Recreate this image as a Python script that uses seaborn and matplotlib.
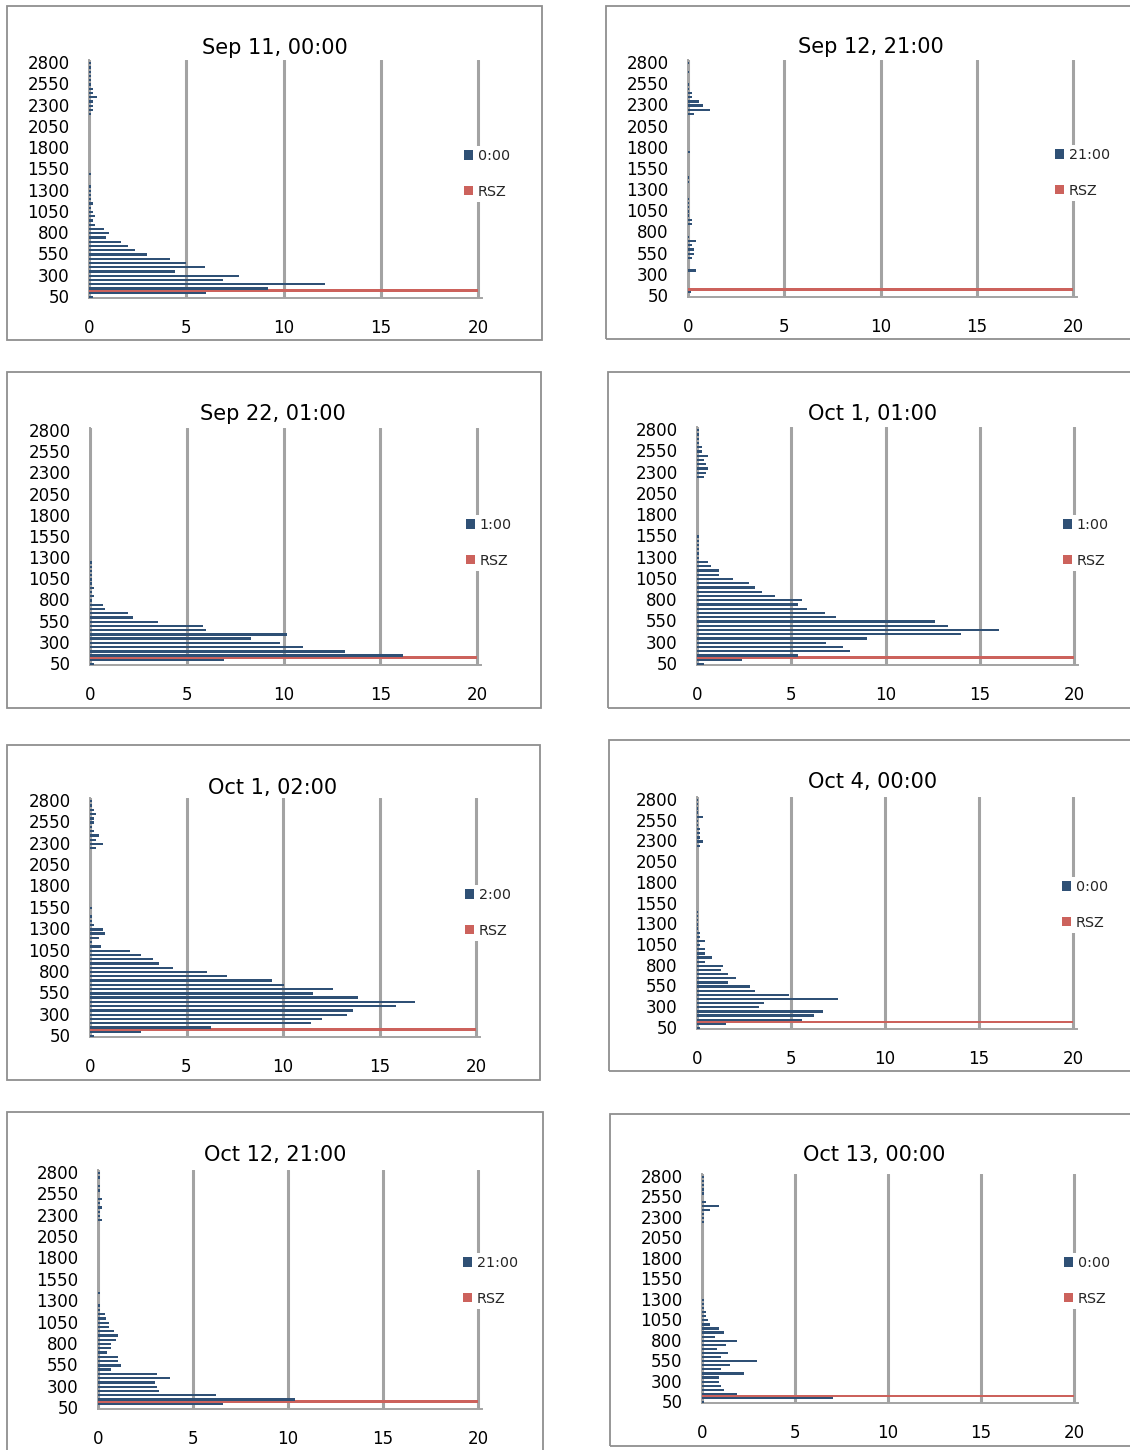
import matplotlib
matplotlib.use("Agg")
import matplotlib.pyplot as plt
from matplotlib.patches import Rectangle
import pandas as pd
import seaborn as sns

# ---------------- data ----------------
altitudes = list(range(50, 2801, 50))   # 56 altitude bins (bottom -> top)

titles = ["Sep 11, 00:00", "Sep 12, 21:00", "Sep 22, 01:00", "Oct 1, 01:00",
          "Oct 1, 02:00", "Oct 4, 00:00", "Oct 12, 21:00", "Oct 13, 00:00"]
series_labels = ["0:00", "21:00", "1:00", "1:00", "2:00", "0:00", "21:00", "0:00"]

sep11_0000 = [0.22, 6.0, 9.2, 12.15, 6.87, 7.7, 4.4, 5.95, 5.0, 4.18,
              3.0, 2.34, 1.98, 1.62, 0.88, 1.05, 0.77, 0.33, 0.22, 0.33,
              0.22, 0.12, 0.22, 0.12, 0.12, 0.12, 0.12, 0, 0, 0.12,
              0, 0, 0, 0, 0, 0, 0, 0, 0, 0,
              0, 0, 0, 0.12, 0.22, 0.22, 0.22, 0.43, 0.22, 0.22,
              0.09, 0.12, 0.12, 0.12, 0.12, 0.12]
sep12_2100 = [0, 0.17, 0, 0, 0, 0, 0.42, 0, 0, 0.2,
              0.31, 0.31, 0.2, 0.42, 0.05, 0, 0, 0.2, 0.2, 0.05,
              0.05, 0.05, 0.05, 0.05, 0, 0, 0, 0.05, 0.05, 0,
              0, 0, 0, 0, 0.1, 0, 0, 0, 0, 0,
              0, 0, 0, 0.31, 1.14, 0.79, 0.56, 0.2, 0.2, 0.05,
              0.05, 0, 0, 0.05, 0, 0.05]
sep22_0100 = [0.19, 6.9, 16.2, 13.2, 11.0, 9.84, 8.3, 10.2, 5.97, 5.85,
              3.51, 2.2, 1.97, 0.8, 0.67, 0.09, 0.2, 0.09, 0.2, 0.09,
              0.09, 0.09, 0.09, 0.09, 0.09, 0, 0, 0, 0, 0,
              0, 0, 0, 0, 0, 0, 0, 0, 0, 0,
              0, 0, 0, 0, 0, 0, 0, 0, 0, 0,
              0, 0, 0, 0, 0, 0]
oct01_0100 = [0.39, 2.4, 5.37, 8.1, 7.76, 6.82, 9.03, 14.0, 16.0, 13.3,
              12.6, 7.39, 6.8, 5.85, 5.37, 5.58, 4.15, 3.46, 3.09, 2.77,
              1.93, 1.18, 1.18, 0.76, 0.6, 0.12, 0.1, 0.1, 0.1, 0.1,
              0.1, 0, 0, 0, 0, 0, 0, 0, 0, 0,
              0, 0, 0, 0, 0.39, 0.49, 0.6, 0.49, 0.39, 0.6,
              0.28, 0.28, 0.1, 0.1, 0.1, 0.1]
oct01_0200 = [0.19, 2.65, 6.28, 11.47, 12.04, 13.34, 13.65, 15.88, 16.82, 13.91,
              11.57, 12.61, 10.07, 9.45, 7.11, 6.07, 4.31, 3.58, 3.27, 2.65,
              2.08, 0.57, 0.09, 0.47, 0.78, 0.67, 0.19, 0.09, 0.09, 0,
              0.09, 0, 0, 0, 0, 0, 0, 0, 0, 0,
              0, 0, 0, 0, 0.29, 0.67, 0.29, 0.47, 0.19, 0.09,
              0.19, 0.19, 0.29, 0.19, 0.09, 0.09]
oct04_0000 = [0.18, 1.53, 5.6, 6.2, 6.69, 3.31, 3.56, 7.52, 4.89, 3.08,
              2.84, 1.64, 2.1, 1.64, 1.26, 1.4, 0.43, 0.79, 0.43, 0.43,
              0.18, 0.43, 0.18, 0.18, 0.07, 0.07, 0.07, 0.07, 0.07, 0,
              0, 0, 0, 0, 0, 0, 0, 0, 0, 0,
              0, 0, 0, 0, 0.18, 0.32, 0.18, 0.18, 0.18, 0.07,
              0.07, 0.32, 0.07, 0.07, 0.07, 0.07]
oct12_2100 = [0, 6.56, 10.35, 6.19, 3.19, 3.09, 2.98, 3.77, 3.09, 0.67,
              1.19, 1.04, 1.04, 0.46, 0.67, 0.67, 0.93, 1.04, 0.82, 0.56,
              0.56, 0.4, 0.35, 0.09, 0.09, 0, 0, 0.09, 0, 0,
              0, 0, 0, 0, 0, 0, 0, 0, 0, 0,
              0, 0, 0, 0, 0.19, 0.09, 0.09, 0.19, 0.09, 0.19,
              0, 0.09, 0.09, 0, 0.09, 0.09]
oct13_0000 = [0.1, 7.06, 1.9, 1.2, 1.04, 0.93, 0.93, 2.28, 1.04, 1.52,
              2.97, 1.04, 1.42, 0.82, 1.31, 1.9, 0.72, 1.2, 0.93, 0.45,
              0.34, 0.23, 0.23, 0.1, 0.1, 0.1, 0, 0, 0, 0,
              0, 0, 0, 0, 0, 0, 0, 0, 0, 0,
              0, 0, 0, 0, 0.1, 0.1, 0.1, 0.45, 0.93, 0.23,
              0, 0.1, 0.1, 0.1, 0.1, 0.1]
profiles = [sep11_0000, sep12_2100, sep22_0100, oct01_0100,
            oct01_0200, oct04_0000, oct12_2100, oct13_0000]

rsz_altitude = [100, 100, 100, 100, 100, 100, 100, 100]
rsz_value = [20, 20, 20, 20, 20, 20, 20, 20]

x_ticks = [0, 5, 10, 15, 20]

# ---------------- layout (pixels) ----------------
W, H = 1130, 1450
# (x of 0, x of 20, top, bottom)
axes_px = [(89, 478, 60, 298), (688, 1073, 60, 297),
           (90, 477, 428, 665), (697, 1074, 427, 665),
           (90, 476, 798, 1037), (697, 1073, 797, 1029),
           (98, 478, 1170, 1409), (702, 1074, 1174, 1403)]
title_px = [(275, 48), (871, 47), (273, 414), (873, 414),
            (273, 788), (873, 782), (275, 1155), (874, 1155)]
legend_px = [(464, 174), (1055, 173), (466, 543), (1063, 543),
             (465, 913), (1062, 905), (463, 1281), (1064, 1281)]
frame_px = [(7, 6, 542, 340), (606, 6, 1140, 339),
            (7, 372, 541, 708), (608, 372, 1140, 708),
            (7, 745, 540, 1080), (609, 740, 1140, 1071),
            (7, 1112, 543, 1460), (610, 1114, 1140, 1446)]

BLUE = "#2F5075"
RED = "#CC625C"
GRID = "#A3A3A3"
XMAX = 20.2

sns.set_theme(style="white")
plt.rcParams["font.family"] = ["DejaVu Sans"]

fig = plt.figure(figsize=(W / 100, H / 100), dpi=100)
fig.patch.set_facecolor("white")

order = [str(a) for a in altitudes[::-1]]

for k in range(8):
    x0, x20, top, bot = axes_px[k]
    x1 = x0 + (x20 - x0) * XMAX / 20
    ax = fig.add_axes([x0 / W, 1 - bot / H, (x1 - x0) / W, (bot - top) / H])

    lab = series_labels[k]
    rsz_col = [rsz_value[k] if a == rsz_altitude[k] else 0 for a in altitudes]
    df = pd.DataFrame({
        "alt": [str(a) for a in altitudes] * 2,
        "value": list(profiles[k]) + rsz_col,
        "series": [lab] * len(altitudes) + ["RSZ"] * len(altitudes),
    })
    sns.barplot(data=df, y="alt", x="value", hue="series", order=order,
                hue_order=["RSZ", lab], palette={lab: BLUE, "RSZ": RED},
                saturation=1, dodge=True, width=1.1, orient="h",
                errorbar=None, linewidth=0, zorder=3, ax=ax)

    ax.set_xlim(0, XMAX)
    ax.set_ylim(len(order) - 0.5, -0.5)
    ax.set_xticks(x_ticks)
    ax.set_xticklabels([str(t) for t in x_ticks])
    ax.set_yticks(range(0, len(order), 5))
    ax.set_yticklabels(order[::5])
    ax.set_xlabel("")
    ax.set_ylabel("")
    ax.tick_params(axis="both", length=0, labelsize=12, colors="black")
    ax.tick_params(axis="y", pad=14)
    ax.tick_params(axis="x", pad=15)
    ax.xaxis.grid(True, color=GRID, linewidth=2.2, zorder=0)
    ax.yaxis.grid(False)
    ax.set_axisbelow(True)
    for s in ["top", "right"]:
        ax.spines[s].set_visible(False)
    for s in ["left", "bottom"]:
        ax.spines[s].set_color(GRID)
        ax.spines[s].set_linewidth(1.4)
        ax.spines[s].set_zorder(2)

    handles, labels = ax.get_legend_handles_labels()
    hmap = dict(zip(labels, handles))
    if ax.get_legend() is not None:
        ax.get_legend().remove()
    lx, ly = legend_px[k]
    fs = 10.3
    leg = ax.legend([hmap[lab], hmap["RSZ"]], [lab, "RSZ"],
                    loc="center left",
                    bbox_to_anchor=((lx - 0.2 * fs * 100 / 72) / W, 1 - ly / H),
                    bbox_transform=fig.transFigure,
                    frameon=True, facecolor="white", edgecolor="none",
                    fancybox=False, framealpha=1, fontsize=fs,
                    handlelength=0.65, handleheight=0.65,
                    handletextpad=0.3, labelspacing=1.5, borderpad=0.2,
                    borderaxespad=0)
    leg.set_zorder(10)

    tx, ty = title_px[k]
    fig.text(tx / W, 1 - ty / H, titles[k], ha="center", va="center",
             fontsize=15, color="black")

    fx0, fy0, fx1, fy1 = frame_px[k]
    fig.add_artist(Rectangle((fx0 / W, 1 - fy1 / H), (fx1 - fx0) / W,
                             (fy1 - fy0) / H, transform=fig.transFigure,
                             fill=False, edgecolor="#8F8F8F", linewidth=1.3))

fig.savefig("out.png", dpi=100, facecolor="white")
